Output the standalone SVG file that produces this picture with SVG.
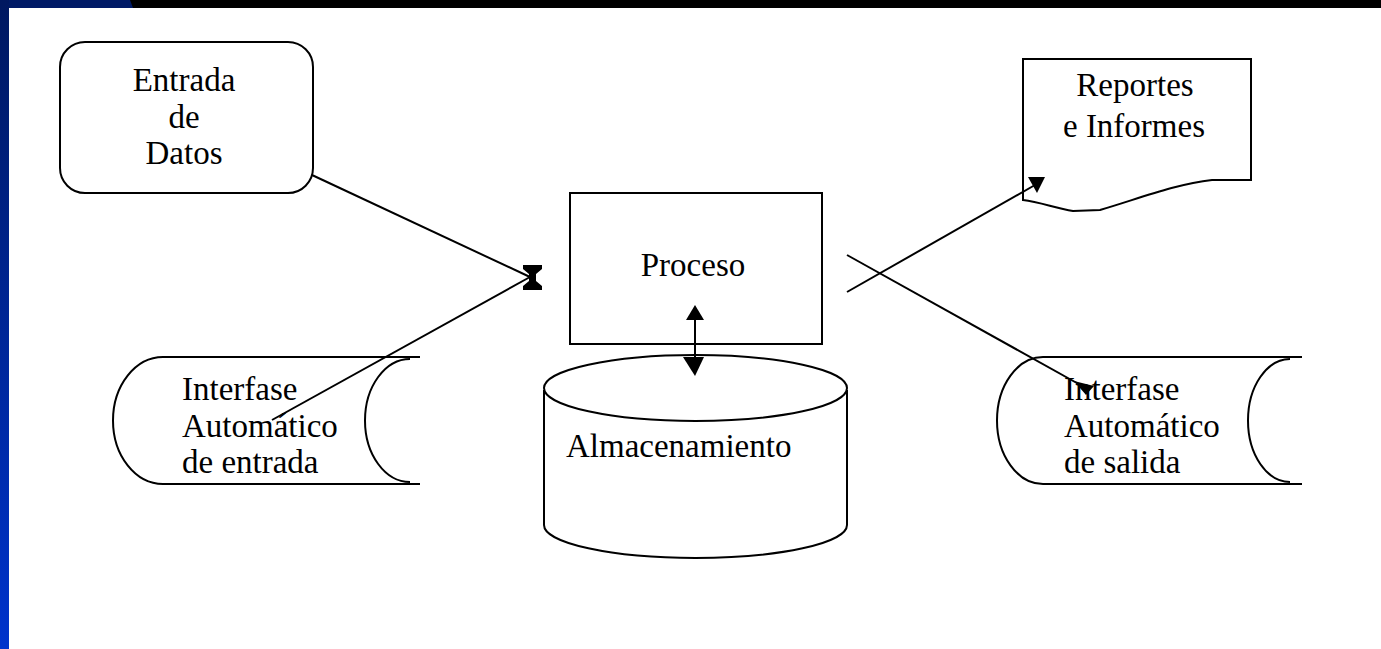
<svg xmlns="http://www.w3.org/2000/svg" width="1381" height="649" viewBox="0 0 1381 649">
<defs>
<linearGradient id="side" x1="0" y1="0" x2="0" y2="1">
<stop offset="0" stop-color="#001860"/>
<stop offset="1" stop-color="#0033cc"/>
</linearGradient>
<style>
.s{fill:#fff;stroke:#000;stroke-width:2}
.o{fill:none;stroke:#000;stroke-width:2}
.c{fill:none;stroke:#000;stroke-width:2}
.h{fill:#000;stroke:none}
text{font-family:"Liberation Serif","Times New Roman",serif;font-size:33px;fill:#000}
</style>
</defs>
<rect x="0" y="0" width="1381" height="649" fill="#fff"/>
<rect x="0" y="0" width="1381" height="8" fill="#000"/>
<polygon points="0,0 130,0 133,8 0,8" fill="#001a66"/>
<rect x="0" y="0" width="9" height="649" fill="url(#side)"/>

<g id="entrada">
<rect class="s" x="60" y="42" width="253" height="151" rx="25" ry="25"/>
<text x="184" y="91" text-anchor="middle">Entrada</text>
<text x="184" y="128" text-anchor="middle">de</text>
<text x="184" y="164" text-anchor="middle">Datos</text>
</g>

<g id="interfase-entrada">
<path class="o" d="M163,357 L420,357 M163,484 L420,484 M163,357 A50,63.5 0 0 0 163,484 M410,359 A45,61.5 0 0 0 410,482"/>
<text x="182" y="400">Interfase</text>
<text x="182" y="437">Automático</text>
<text x="182" y="473">de entrada</text>
</g>

<g id="proceso">
<rect class="s" x="570" y="193" width="252" height="151"/>
<text x="693" y="276" text-anchor="middle">Proceso</text>
</g>

<g id="almacenamiento">
<path class="s" d="M544,390 L544,525 A151.5,33 0 0 0 847,525 L847,390"/>
<ellipse class="s" cx="695.5" cy="388" rx="151.5" ry="33"/>
<text x="566" y="457">Almacenamiento</text>
</g>

<g id="reportes">
<path class="s" d="M1023,59 L1251,59 L1251,180 L1212,180 C1175,184 1135,200 1100,210 L1073,211 C1055,208 1040,202 1023,200 Z"/>
<text x="1135" y="96" text-anchor="middle">Reportes</text>
<text x="1134" y="137" text-anchor="middle">e Informes</text>
</g>

<g id="interfase-salida">
<path class="o" d="M1043,357 L1302,357 M1043,484 L1302,484 M1043,357 A46,63.5 0 0 0 1043,484 M1290,359 A42,61.5 0 0 0 1290,482"/>
<text x="1064" y="400">Interfase</text>
<text x="1064" y="437">Automático</text>
<text x="1064" y="473">de salida</text>
</g>

<g id="connectors">
<line class="c" x1="312" y1="175" x2="530" y2="277"/>
<line class="c" x1="272" y1="420" x2="530" y2="277"/>
<polygon class="h" points="523,265 542,265 542,269 536,274 536,281 542,286 542,290 523,290 523,286 529,281 529,274 523,269"/>
<line class="c" x1="695" y1="310" x2="695" y2="372"/>
<polygon class="h" points="695,305 704,320 686,320"/>
<polygon class="h" points="683,357 704,357 695,376"/>
<line class="c" x1="847" y1="292" x2="1035" y2="185"/>
<polygon class="h" points="1028,177 1045,177 1037,193"/>
<line class="c" x1="847" y1="255" x2="1084" y2="387"/>
<polygon class="h" points="1074,381 1094,386 1086,395"/>
</g>
</svg>
